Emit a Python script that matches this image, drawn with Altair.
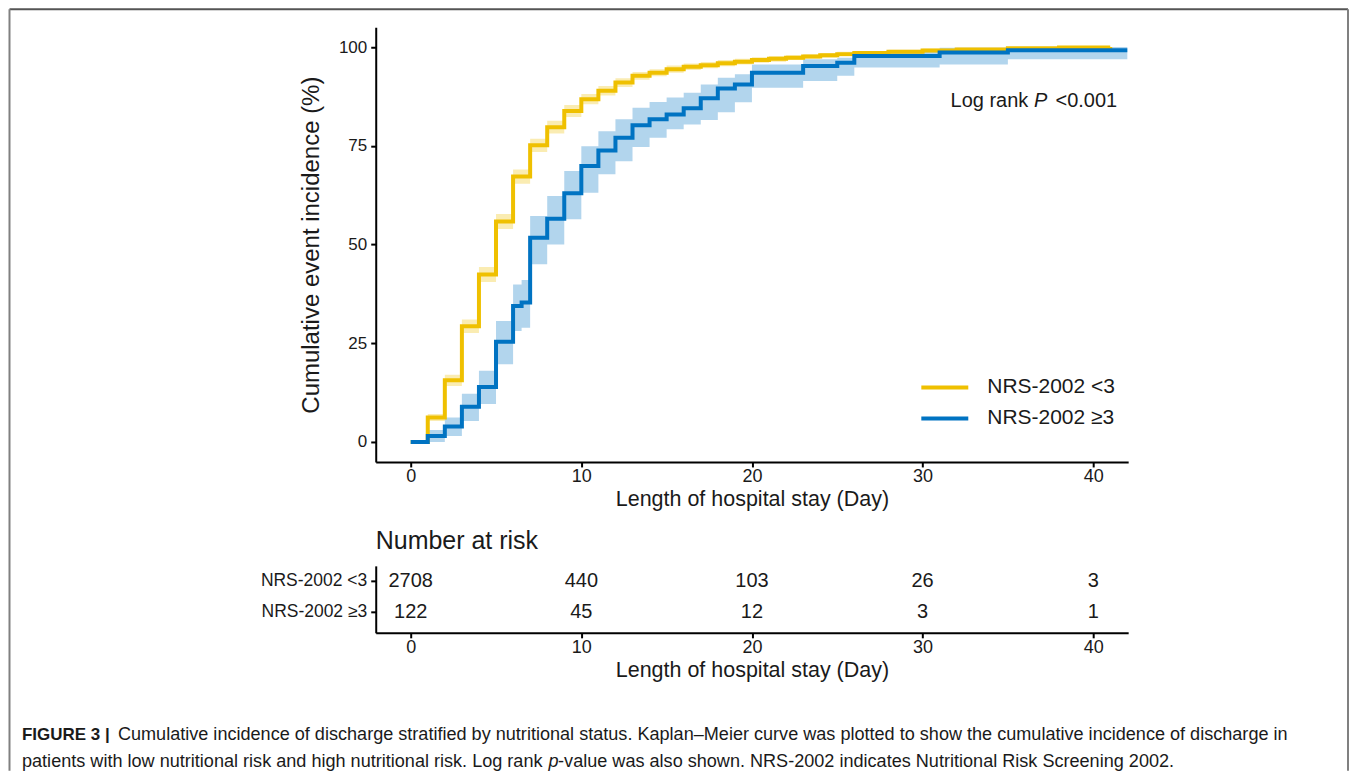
import altair as alt
import pandas as pd

LOW = "NRS-2002 <3"
HIGH = "NRS-2002 ≥3"
YELLOW = "#EFC000"
BLUE = "#0073C2"
SANS = "Liberation Sans"
INK = "#1a1a1a"

# Kaplan-Meier cumulative incidence, low nutritional risk
low_days = [0, 1, 2, 3, 4, 5, 6, 7, 8, 9, 10, 11, 12, 13, 14, 15, 16, 17, 18, 19,
            20, 21, 22, 23, 24, 25, 26, 28, 30, 32, 35, 38, 41]
low_inc = [0, 6.2, 15.6, 29.3, 42.4, 55.8, 67.2, 75.1, 79.7, 83.8, 86.8, 88.9, 91.0,
           92.7, 93.5, 94.4, 95.0, 95.4, 95.9, 96.3, 96.7, 97.0, 97.3, 97.6, 97.9,
           98.2, 98.5, 98.8, 99.1, 99.4, 99.7, 99.9, 100]
low_lo = [0, 5.3, 14.2, 27.6, 40.5, 53.9, 65.4, 73.4, 78.1, 82.3, 85.5, 87.7, 89.9,
          91.7, 92.6, 93.5, 94.2, 94.6, 95.1, 95.6, 96.0, 96.3, 96.7, 97.0, 97.3,
          97.6, 98.0, 98.3, 98.6, 99.0, 99.3, 99.6, 99.8]
low_hi = [0, 7.1, 17.0, 31.0, 44.3, 57.7, 69.0, 76.8, 81.3, 85.3, 88.1, 90.1, 92.1,
          93.7, 94.4, 95.3, 95.8, 96.2, 96.7, 97.0, 97.4, 97.7, 97.9, 98.2, 98.5,
          98.8, 99.0, 99.3, 99.6, 99.8, 100, 100, 100]

# high nutritional risk
high_days = [0, 1, 2, 3, 4, 5, 6, 6.5, 7, 8, 9, 10, 11, 12, 13, 14, 15, 16, 17, 18,
             19, 20, 23, 25, 26, 31, 35, 42]
high_inc = [0, 1.5, 3.9, 8.9, 13.9, 25.4, 34.4, 35.3, 51.7, 56.5, 63.0, 69.9, 73.8,
            77.0, 80.2, 81.7, 82.9, 84.5, 87.0, 89.5, 90.5, 93.5, 95.2, 96.0, 97.7,
            98.6, 99.2, 99.2]
high_lo = [0, 0, 1.5, 5.3, 9.6, 19.7, 28.1, 28.9, 45.0, 50.0, 56.4, 63.1, 67.8, 71.1,
           74.7, 77.0, 79.2, 80.4, 81.5, 83.5, 86.0, 89.7, 91.4, 92.7, 94.8, 95.6,
           96.9, 96.9]
high_hi = [0, 3.0, 6.2, 12.2, 18.0, 30.6, 39.9, 41.0, 57.2, 62.3, 68.6, 74.9, 78.7,
           81.7, 84.6, 86.1, 87.2, 88.4, 90.5, 92.2, 93.1, 95.6, 96.9, 97.3, 99.0,
           99.8, 100, 100]

# number at risk table
risk_groups = [LOW, HIGH]
risk_days = [0, 10, 20, 30, 40]
risk_low = [2708, 440, 103, 26, 3]
risk_high = [122, 45, 12, 3, 1]

x_ticks = [0, 10, 20, 30, 40]
y_ticks = [0, 25, 50, 75, 100]

caption_bold = "FIGURE 3 |"
caption_l1 = ("Cumulative incidence of discharge stratified by nutritional status. "
              "Kaplan\u2013Meier curve was plotted to show the cumulative incidence of discharge in")
caption_l2a = "patients with low nutritional risk and high nutritional risk. Log rank"
caption_l2b = "p"
caption_l2c = "-value was also shown. NRS-2002 indicates Nutritional Risk Screening 2002."

km = pd.concat([
    pd.DataFrame({"day": low_days, "inc": low_inc, "lo": low_lo, "hi": low_hi, "group": LOW}),
    pd.DataFrame({"day": high_days, "inc": high_inc, "lo": high_lo, "hi": high_hi, "group": HIGH}),
], ignore_index=True)

risk = pd.concat([
    pd.DataFrame({"day": risk_days, "n": risk_low, "row": 1, "group": LOW}),
    pd.DataFrame({"day": risk_days, "n": risk_high, "row": 2, "group": HIGH}),
], ignore_index=True)

W = 753
x_scale = alt.Scale(domain=[-2.05, 42.05], nice=False, zero=False)
y_scale = alt.Scale(domain=[-5.06, 105], nice=False, zero=False)

common_axis = dict(grid=False, domainColor="black", domainWidth=2, tickColor="black",
                   tickWidth=2, tickSize=5, labelColor=INK, titleColor=INK,
                   titleFontWeight="normal", labelFont=SANS, titleFont=SANS)

x_axis = alt.Axis(values=x_ticks, title="Length of hospital stay (Day)",
                  labelFontSize=18, titleFontSize=21.5, labelPadding=1,
                  titlePadding=3, **common_axis)
y_axis = alt.Axis(values=y_ticks, title="Cumulative event incidence (%)",
                  labelFontSize=17, titleFontSize=24, labelPadding=4,
                  titlePadding=15, **common_axis)

base = alt.Chart(km)
band_low = base.transform_filter(alt.datum.group == LOW).mark_area(
    interpolate="step-after", color=YELLOW, opacity=0.3).encode(
    x=alt.X("day:Q", scale=x_scale, axis=x_axis),
    y=alt.Y("lo:Q", scale=y_scale, axis=y_axis),
    y2="hi:Q")
band_high = base.transform_filter(alt.datum.group == HIGH).mark_area(
    interpolate="step-after", color=BLUE, opacity=0.3).encode(
    x=alt.X("day:Q", scale=x_scale, axis=x_axis),
    y=alt.Y("lo:Q", scale=y_scale, axis=y_axis),
    y2="hi:Q")

legend = alt.Legend(title=None, orient="none", legendX=544, legendY=346, symbolType="stroke",
                    symbolSize=2209, symbolStrokeWidth=4, symbolOpacity=1, labelFont=SANS,
                    labelFontSize=21, labelColor=INK, labelOffset=17, padding=0,
                    clipHeight=29, rowPadding=2)
color = alt.Color("group:N", scale=alt.Scale(domain=risk_groups, range=[YELLOW, BLUE]),
                  legend=legend)

line_low = base.transform_filter(alt.datum.group == LOW).mark_line(
    interpolate="step-after", strokeWidth=4).encode(x="day:Q", y="inc:Q", color=color)
line_high = base.transform_filter(alt.datum.group == HIGH).mark_line(
    interpolate="step-after", strokeWidth=4).encode(x="day:Q", y="inc:Q", color=color)

ann = alt.Chart(pd.DataFrame({"t": ["<0.001"]}))
p_x, p_y = 742, 74
ann_font = dict(align="right", baseline="middle", font=SANS, fontSize=20, color=INK)
ann1 = ann.mark_text(**ann_font).encode(
    x=alt.value(p_x), y=alt.value(p_y), text=alt.value("<0.001"))
ann2 = ann.mark_text(fontStyle="italic", dx=-70, **ann_font).encode(
    x=alt.value(p_x), y=alt.value(p_y), text=alt.value("P"))
ann3 = ann.mark_text(dx=-89, **ann_font).encode(
    x=alt.value(p_x), y=alt.value(p_y), text=alt.value("Log rank"))

km_chart = alt.layer(band_high, band_low, line_low, line_high, ann1, ann2, ann3).properties(
    width=W, height=435)

risk_axis_kw = {k: v for k, v in common_axis.items() if not k.startswith("title")}
risk_chart = alt.Chart(risk).mark_text(font=SANS, fontSize=20, color=INK).encode(
    x=alt.X("day:Q", scale=x_scale, axis=x_axis),
    y=alt.Y("row:Q", scale=alt.Scale(domain=[0.516, 2.677], reverse=True, nice=False, zero=False),
            axis=alt.Axis(title=None, values=[1, 2], labelFontSize=17.5, labelPadding=4,
                          labelExpr="datum.value == 1 ? '%s' : '%s'" % (LOW, HIGH),
                          **risk_axis_kw)),
    text="n:Q",
).properties(
    width=W, height=67,
    title=alt.TitleParams("Number at risk", anchor="start", frame="group", font=SANS,
                          fontSize=25, fontWeight="normal", color=INK, offset=12),
)

# caption + figure frame (decoration, pixel positioned relative to the caption panel,
# whose origin sits 104px under the risk table, i.e. at page y ~736)
cap = alt.Chart(pd.DataFrame({"t": [""]}))
cx0 = -354
frame_l, frame_r, frame_t, frame_b = -366.5, 973, -728, 34
frame_top = cap.mark_rule(color="#555555", strokeWidth=2).encode(
    x=alt.value(frame_l), x2=alt.value(frame_r), y=alt.value(frame_t))
frame_left = cap.mark_rule(color="#808080", strokeWidth=2).encode(
    x=alt.value(frame_l), y=alt.value(frame_t), y2=alt.value(frame_b))
frame_right = cap.mark_rule(color="#808080", strokeWidth=2).encode(
    x=alt.value(frame_r), y=alt.value(frame_t), y2=alt.value(frame_b))

cap_font = dict(font=SANS, fontSize=18.1, color=INK, baseline="middle", align="left")
l1y, l2y = -2, 25
c1 = cap.mark_text(fontWeight="bold", **dict(cap_font, fontSize=17)).encode(
    x=alt.value(cx0), y=alt.value(l1y), text=alt.value(caption_bold))
c2 = cap.mark_text(**cap_font).encode(
    x=alt.value(cx0 + 96), y=alt.value(l1y), text=alt.value(caption_l1))
c3 = cap.mark_text(**cap_font).encode(
    x=alt.value(cx0), y=alt.value(l2y), text=alt.value(caption_l2a))
c4 = cap.mark_text(fontStyle="italic", **cap_font).encode(
    x=alt.value(cx0 + 527), y=alt.value(l2y), text=alt.value(caption_l2b))
c5 = cap.mark_text(**cap_font).encode(
    x=alt.value(cx0 + 536.5), y=alt.value(l2y), text=alt.value(caption_l2c))

cap_chart = alt.layer(frame_top, frame_left, frame_right, c1, c2, c3, c4, c5).properties(
    width=W, height=1)

chart = alt.vconcat(km_chart, risk_chart, cap_chart, spacing=104, bounds="flush").properties(
    padding=0
).configure_view(stroke=None)

chart.save("out.html", embed_options={"renderer": "svg", "actions": False})
